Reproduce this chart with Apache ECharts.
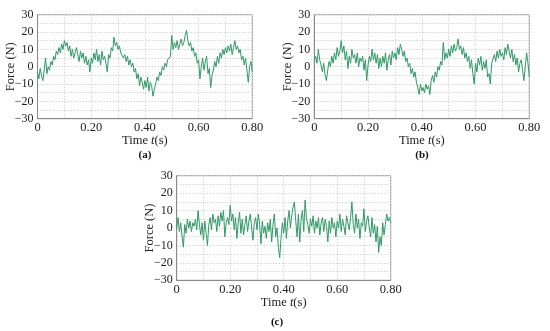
<!DOCTYPE html>
<html>
<head>
<meta charset="utf-8">
<script src="https://cdn.jsdelivr.net/npm/echarts@6/dist/echarts.min.js"></script>
<style>
html,body{margin:0;padding:0;background:#fff;}
#chart{width:550px;height:331px;}
</style>
</head>
<body>
<div id="chart"></div>
<script>
// Sampling step (s) of the force records
const dt = 0.005;

// (a) force record, N
const forceA = [
  -3, -7, -1, -5, -8, -2, 5, -4, 0, -2,
  3, 1, 6, 4, 9, 7, 11, 8, 13, 10,
  15, 12, 14, 9, 12, 6, 10, 5, 8, 11,
  7, 3, 9, 5, 8, 2, 6, 1, 4, -3,
  5, 2, 8, 4, 10, 3, 7, 1, 9, 4,
  6, 2, -3, 7, 5, 11, 9, 17, 12, 14,
  10, 12, 8, 9, 5, 7, 3, 6, 1, 4,
  0, 2, -3, -1, -7, -4, -11, -6, -9, -13,
  -8, -12, -6, -14, -9, -11, -17, -13, -10, -6,
  -8, -3, -5, 0, -2, 2, 0, 4, 3, 6,
  18, 10, 14, 11, 15, 10, 13, 16, 12, 14,
  18, 21, 15, 12, 14, 9, 11, 6, 8, 2,
  4, -7, 0, 5, -2, 3, 6, -4, -1, -12,
  -5, -2, 3, 0, 6, 2, 8, 5, 10, 7,
  11, 8, 12, 9, 13, 7, 11, 15, 10, 12,
  8, 10, 4, 6, 1, 5, -2, -9, 0, 3,
  -3
];

// (b) force record, N
const forceB = [
  3, 6, 2, 10, 4, 1, -3, 2, -5, -8,
  -2, 3, 0, 6, 2, 8, 4, 11, 6, 9,
  15, 8, 12, 4, 9, -1, 6, 2, 10, 5,
  7, 2, 8, 0, 5, 3, 6, -2, 4, -8,
  1, 6, 3, 10, 4, 8, 2, 7, -1, 5,
  0, 6, 2, 8, -2, 4, 7, 1, 9, 5,
  8, 4, 11, 7, 13, 10, 6, 9, 3, 5,
  0, 2, -4, -1, -6, -3, -9, -12, -16, -10,
  -14, -12, -15, -10, -13, -11, -16, -8, -5, -9,
  -3, -6, 0, -2, 3, 1, 14, 4, 8, 5,
  10, 6, 12, 8, 13, 9, 11, 16, 10, 12,
  7, 11, 5, 8, 3, 6, -1, 4, -4, -10,
  2, -3, 5, 1, 6, -2, 3, -1, 4, -6,
  -4, -10, 2, 1, 7, 3, 9, 5, 10, 6,
  8, 4, 11, 7, 13, 9, 5, 10, 3, 7,
  1, 5, -3, 2, 4, -2, -8, 0, 8, 2,
  -6
];

// (c) force record, N
const forceC = [
  0, 6, -2, 3, -5, -11, 2, -3, 5, 0,
  4, -2, 3, 1, 5, -1, 10, 2, -4, 3,
  -7, 4, -3, -10, 2, 6, -1, 8, 3, 5,
  -2, 7, 1, 9, 4, 10, -5, 3, 6, 2,
  13, 4, 8, -1, 6, -6, 3, 9, -3, 5,
  -4, 2, 7, -2, 4, 8, 0, -7, 3, 6,
  -1, 8, 2, -9, 4, -3, 1, -6, 3, -2,
  5, -8, 2, 8, -5, 0, -11, -17, -6, 3,
  -3, 6, -6, 4, 10, 0, 7, 12, 15, 4,
  -5, 8, -8, 5, 10, -2, 16, 6, 2, -3,
  5, 1, 7, -3, 4, 0, 6, -4, 3, 6,
  -2, 5, 1, -8, 4, -3, 6, 0, 3, -5,
  4, 0, 8, -2, 5, 1, -4, 7, 3, -1,
  6, 15, 2, -3, 8, 0, 5, -6, 3, 1,
  11, -2, 4, 7, 0, -5, 6, -3, 2, -8,
  1, -14, -5, -10, 3, -4, 2, 8, 4, 6,
  3
];

const captions = ['(a)', '(b)', '(c)'];
const xTickLabels = ['0', '0.20', '0.40', '0.60', '0.80'];

const FONT = '"Liberation Serif", "DejaVu Serif", serif';
const LINE_COLOR = '#2e9a66';

function toPairs(arr) { return arr.map((v, i) => [+(i * dt).toFixed(3), v]); }

const grids = [
  { left: 37.5, top: 14.7, width: 214.8, height: 104 },
  { left: 314.3, top: 14.7, width: 215, height: 104 },
  { left: 176.7, top: 175.7, width: 214, height: 104.6 }
];

function xAxisFor(i) {
  return {
    type: 'value', gridIndex: i, min: 0, max: 0.8, interval: 0.1,
    name: '{n|Time }{it|t}{n|(s)}', nameLocation: 'middle', nameGap: 15.5,
    nameMoveOverlap: false,
    nameTextStyle: {
      rich: {
        n: { fontFamily: FONT, fontSize: 12.5, color: '#222' },
        it: { fontFamily: FONT, fontSize: 12.5, color: '#222', fontStyle: 'italic' }
      }
    },
    axisLine: { show: true, onZero: false, lineStyle: { color: '#8a8a8a', width: 1 } },
    axisTick: { show: false },
    axisLabel: {
      margin: 3, fontFamily: FONT, fontSize: 12.5, color: '#222',
      formatter: function (v) {
        const k = Math.round(v * 10);
        if (k % 2 !== 0) return '';
        return xTickLabels[k / 2];
      }
    },
    splitLine: { show: true, lineStyle: { color: '#d4d4d4', type: [1.5, 1.5], width: 1 } }
  };
}

function yAxisFor(i) {
  return {
    type: 'value', gridIndex: i, min: -30, max: 30, interval: 5,
    name: 'Force (N)', nameLocation: 'middle', nameGap: 20, nameRotate: 90,
    nameMoveOverlap: false,
    nameTextStyle: { fontFamily: FONT, fontSize: 12.5, color: '#222' },
    axisLine: { show: true, onZero: false, lineStyle: { color: '#8a8a8a', width: 1 } },
    axisTick: { show: false },
    axisLabel: {
      margin: 4, fontFamily: FONT, fontSize: 12, color: '#222',
      formatter: function (v) {
        if (Math.round(v) % 10 !== 0) return '';
        return v < 0 ? '\u2212' + Math.abs(v) : String(v);
      }
    },
    splitLine: { show: true, lineStyle: { color: '#d4d4d4', type: [1.5, 1.5], width: 1 } }
  };
}

const data = [forceA, forceB, forceC];

const option = {
  animation: false,
  backgroundColor: '#fff',
  grid: grids.map(g => Object.assign({ show: true, borderColor: '#8a8a8a', borderWidth: 1, backgroundColor: 'transparent' }, g)),
  xAxis: [0, 1, 2].map(xAxisFor),
  yAxis: [0, 1, 2].map(yAxisFor),
  series: data.map((d, i) => ({
    type: 'line', xAxisIndex: i, yAxisIndex: i, data: toPairs(d),
    showSymbol: false, symbol: 'none',
    lineStyle: { color: LINE_COLOR, width: 1 }, z: 3
  })),
  graphic: [
    { type: 'text', x: 145, y: 155, style: { text: captions[0], font: 'bold 11px ' + FONT, fill: '#111', align: 'center', verticalAlign: 'middle' } },
    { type: 'text', x: 422, y: 155, style: { text: captions[1], font: 'bold 11px ' + FONT, fill: '#111', align: 'center', verticalAlign: 'middle' } },
    { type: 'text', x: 277, y: 322.5, style: { text: captions[2], font: 'bold 11px ' + FONT, fill: '#111', align: 'center', verticalAlign: 'middle' } }
  ]
};

const chart = echarts.init(document.getElementById('chart'), null, { renderer: 'canvas' });
chart.setOption(option);
</script>
</body>
</html>
